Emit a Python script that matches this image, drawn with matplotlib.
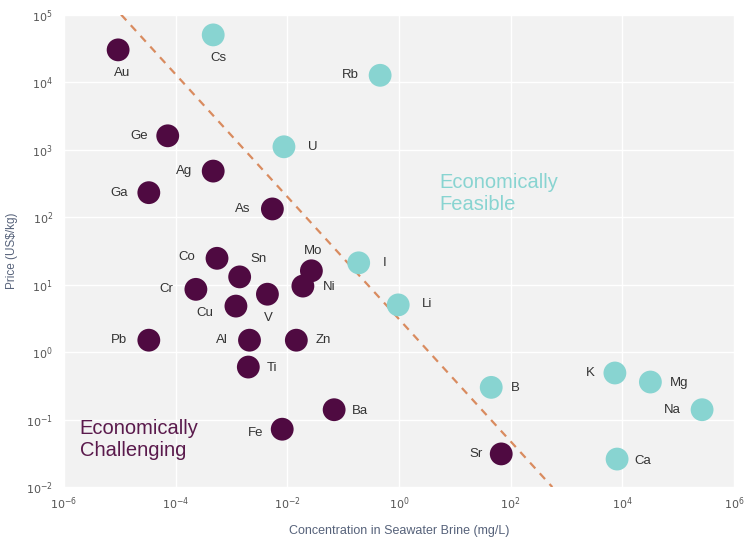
import numpy as np
import matplotlib
matplotlib.use('Agg')
import matplotlib.pyplot as plt
from matplotlib.ticker import FixedLocator, FuncFormatter

plt.rcParams['font.family'] = ['Liberation Sans', 'DejaVu Sans']

# element, concentration (mg/L), price (US$/kg)
feasible = ["Cs", "Rb", "U", "I", "Li", "B", "K", "Mg", "Na", "Ca"]
feasible_conc = [4.7e-4, 0.46, 8.7e-3, 0.19, 0.97, 45, 7.4e3, 3.2e4, 2.7e5, 8.1e3]
feasible_price = [5.0e4, 1.26e4, 1.1e3, 21, 5.0, 0.30, 0.49, 0.36, 0.14, 0.026]

challenging = ["Au", "Ge", "Ag", "Ga", "As", "Co", "Sn", "Mo", "Ni", "Cr",
               "Cu", "V", "Pb", "Al", "Zn", "Ti", "Ba", "Fe", "Sr"]
challenging_conc = [9.3e-6, 7.2e-5, 4.7e-4, 3.3e-5, 5.4e-3, 5.5e-4, 1.4e-3,
                    0.027, 0.019, 2.3e-4, 1.2e-3, 4.4e-3, 3.3e-5, 2.1e-3,
                    0.0145, 2.0e-3, 0.069, 8.1e-3, 68]
challenging_price = [3.0e4, 1.6e3, 480, 230, 132, 24.5, 13, 16, 9.5, 8.5,
                     4.8, 7.2, 1.5, 1.5, 1.5, 0.6, 0.14, 0.072, 0.031]

# break-even line endpoints
line_conc = [1.05e-5, 5.6e2]
line_price = [1e5, 1e-2]

x_ticks = [1e-6, 1e-4, 1e-2, 1e0, 1e2, 1e4, 1e6]
y_ticks = [1e-2, 1e-1, 1e0, 1e1, 1e2, 1e3, 1e4, 1e5]

# label offsets in pixels (dx, dy), screen coords
offsets = {
    "Au": (4, -23), "Cs": (5, -23), "Rb": (-30, 0), "U": (29, 0),
    "Ge": (-29, 0), "Ag": (-29, 0), "Ga": (-30, 0), "As": (-30, 0),
    "Co": (-30, 1), "Sn": (19, 18), "Mo": (2, 20), "Ni": (26, -1),
    "Cr": (-30, 0), "Cu": (-31, -7), "V": (1, -24), "I": (26, 0),
    "Li": (29, 1), "Pb": (-30, 0), "Al": (-28, 0), "Zn": (27, 0),
    "Ti": (24, -1), "B": (24, -1), "K": (-25, 0), "Mg": (29, -1),
    "Na": (-30, 0), "Ba": (26, -1), "Fe": (-27, -4), "Sr": (-25, 0),
    "Ca": (26, -2),
}

purple = "#4f0a41"
teal = "#88d4d1"
label_col = "#56627a"

fig = plt.figure(figsize=(7.45, 5.4), dpi=100)
ax = fig.add_axes([0.086, 0.098, 0.899, 0.875])
ax.set_facecolor("#f2f2f2")
for s in ax.spines.values():
    s.set_visible(False)

ax.plot(line_conc, line_price, linestyle=(0, (3.5, 3)), color="#d98b5f", lw=1.6, zorder=2)

ax.scatter(challenging_conc, challenging_price, s=270, color=purple, edgecolors="none", zorder=3)
ax.scatter(feasible_conc, feasible_price, s=270, color=teal, edgecolors="none", zorder=3)

for names, xs, ys in [(challenging, challenging_conc, challenging_price),
                      (feasible, feasible_conc, feasible_price)]:
    for n, xv, yv in zip(names, xs, ys):
        dx, dy = offsets[n]
        ax.annotate(n, (xv, yv), xytext=(dx, dy), textcoords="offset pixels",
                    ha="center", va="center", fontsize=9.5, color="#333333", zorder=4)

ax.set_xscale("log")
ax.set_yscale("log")
ax.set_xlim(1e-6, 1e6)
ax.set_ylim(1e-2, 1e5)
ax.xaxis.set_major_locator(FixedLocator(x_ticks))
ax.yaxis.set_major_locator(FixedLocator(y_ticks))
ax.xaxis.set_minor_locator(FixedLocator([]))
ax.yaxis.set_minor_locator(FixedLocator([]))
fmt = FuncFormatter(lambda v, p: r"$10^{%d}$" % int(round(np.log10(v))))
ax.xaxis.set_major_formatter(fmt)
ax.yaxis.set_major_formatter(fmt)
ax.tick_params(length=0, labelsize=8, colors="#555555")
ax.tick_params(axis="x", pad=6)
ax.tick_params(axis="y", pad=8)
ax.grid(True, color="white", lw=1)
ax.set_axisbelow(True)

ax.set_xlabel("Concentration in Seawater Brine (mg/L)", fontsize=9, color=label_col, labelpad=9)
ax.set_ylabel("Price (US$/kg)", fontsize=8.5, color=label_col, labelpad=6)

ax.text(0.0235, 0.1, "Economically\nChallenging", transform=ax.transAxes,
        fontsize=14.5, color="#5a1a4c", ha="left", va="center", linespacing=1.2)
ax.text(0.561, 0.621, "Economically\nFeasible", transform=ax.transAxes,
        fontsize=14.5, color=teal, ha="left", va="center", linespacing=1.2)

fig.savefig("out.png", dpi=100)
